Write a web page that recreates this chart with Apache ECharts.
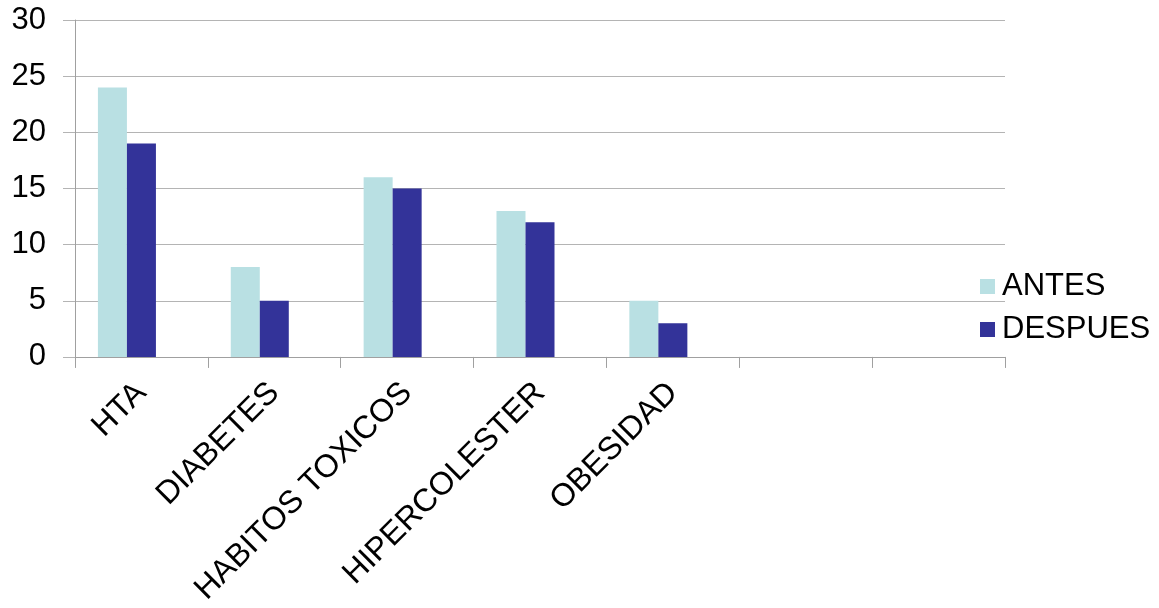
<!DOCTYPE html>
<html>
<head>
<meta charset="utf-8">
<script src="https://cdn.jsdelivr.net/npm/echarts@6/dist/echarts.min.js"></script>
<style>
html,body{margin:0;padding:0;background:#fff;}
#chart{width:1159px;height:608px;}
</style>
</head>
<body>
<div id="chart"></div>
<script>
const categories = ['HTA', 'DIABETES', 'HABITOS TOXICOS', 'HIPERCOLESTER', 'OBESIDAD', '', ''];
const antes = [24, 8, 16, 13, 5, null, null];
const despues = [19, 5, 15, 12, 3, null, null];
const empty = [null, null, null, null, null, null, null];
const yTicks = [0, 5, 10, 15, 20, 25, 30];

const FONT = 'Liberation Sans, Arial, sans-serif';
const chart = echarts.init(document.getElementById('chart'), null, {renderer: 'canvas'});
chart.setOption({
  animation: false,
  backgroundColor: '#ffffff',
  grid: {left: 75, right: 154, top: 20, bottom: 250, containLabel: false},
  legend: {
    data: ['ANTES', 'DESPUES'],
    orient: 'vertical',
    left: 975,
    top: 266,
    itemWidth: 15,
    itemHeight: 15,
    itemGap: 12,
    icon: 'rect',
    textStyle: {fontFamily: FONT, fontSize: 31, color: '#000', padding: [0,0,0,2]}
  },
  xAxis: {
    type: 'category',
    data: categories,
    axisLine: {show: true, lineStyle: {color: '#a0a0a0', width: 1}},
    axisTick: {show: true, alignWithLabel: false, length: 11, lineStyle: {color: '#a0a0a0'}},
    axisLabel: {
      interval: 0, rotate: 45, margin: 31,
      fontFamily: FONT, fontSize: 32, color: '#000'
    },
    splitLine: {show: false}
  },
  yAxis: {
    type: 'value',
    min: yTicks[0],
    max: yTicks[yTicks.length - 1],
    interval: 5,
    axisLine: {show: true, lineStyle: {color: '#a0a0a0', width: 1}},
    axisTick: {show: true, length: 12, lineStyle: {color: '#b4b4b4'}},
    axisLabel: {margin: 29, fontFamily: FONT, fontSize: 31, color: '#000'},
    splitLine: {show: true, lineStyle: {color: '#b4b4b4', width: 1}}
  },
  series: [
    {name: 'ANTES', type: 'bar', data: antes, itemStyle: {color: '#B9E0E3'}, barGap: '0%', barCategoryGap: '34.5%'},
    {name: 'DESPUES', type: 'bar', data: despues, itemStyle: {color: '#333399'}, barGap: '0%', barCategoryGap: '34.5%'},
    {name: 'blank', type: 'bar', data: empty, itemStyle: {color: '#ffffff'}, barGap: '0%', barCategoryGap: '34.5%'}
  ]
});
</script>
</body>
</html>
